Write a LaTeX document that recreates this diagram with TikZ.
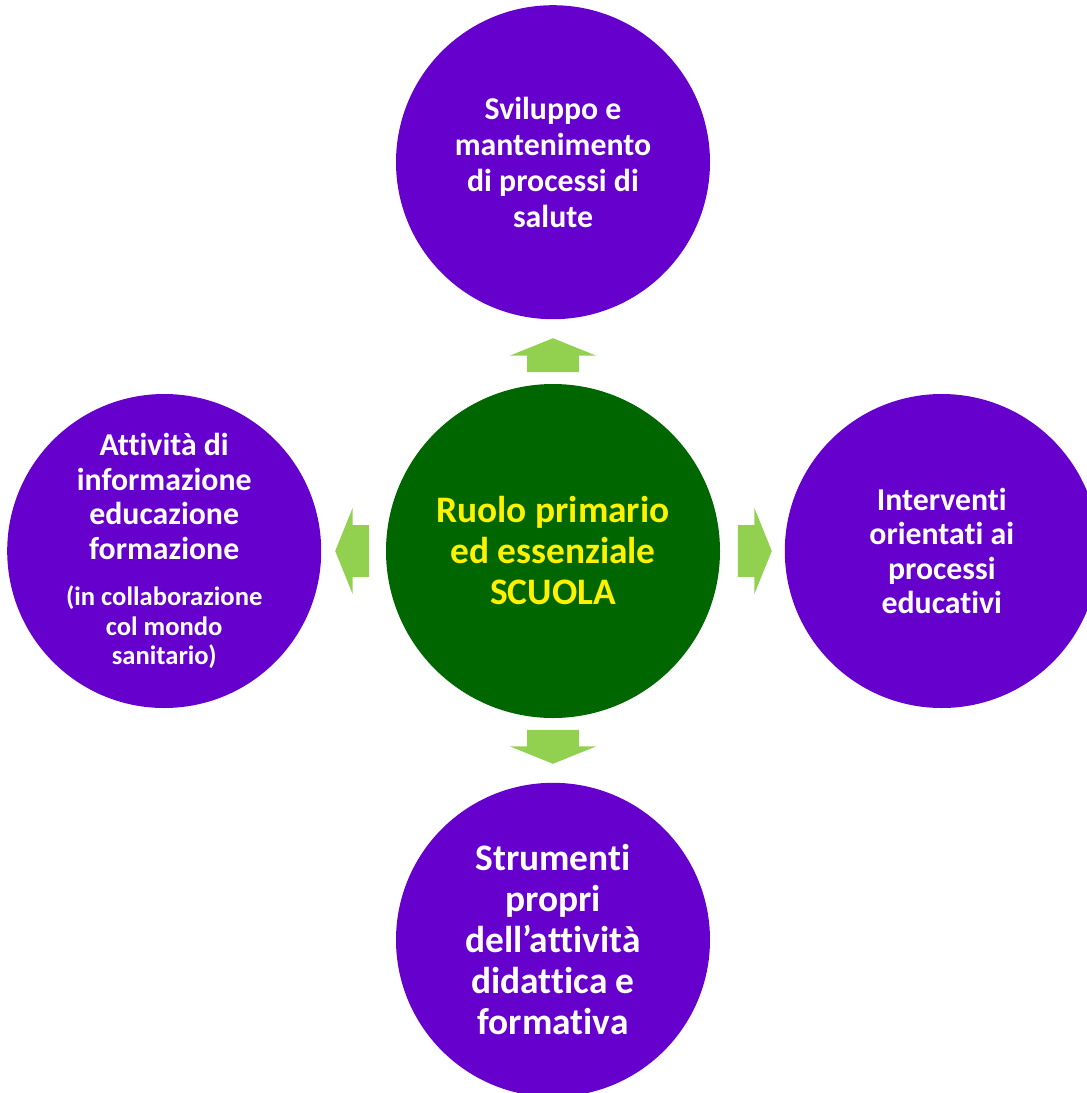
\documentclass[tikz,border=0pt]{standalone}
\usepackage{fontspec}
\setmainfont[Ligatures=NoCommon]{Carlito}
\usetikzlibrary{shapes.arrows}
\usetikzlibrary{positioning}
\definecolor{viola}{HTML}{6600CC}
\definecolor{verdes}{HTML}{006600}
\definecolor{verdec}{HTML}{92D050}
\newcommand{\piccolo}{\fontsize{13.3}{14.5}\selectfont}
\tikzset{
    mynodep/.style = {circle, fill=viola, align=center, inner sep=0pt, minimum size=157pt, font=\bfseries\fontsize{15.9}{17.25}\selectfont, text=white},
    mynodeg/.style = {circle, fill=verdes, align=center, inner sep=0pt, minimum size=167pt, font=\bfseries\fontsize{18.7}{20.5}\selectfont, text=yellow},
    freccia/.style = {single arrow, fill=verdec, anchor=tail, inner xsep=0pt, inner ysep=12.75pt, minimum height=17pt, single arrow head extend=8.5pt, single arrow tip angle=136},
}
\begin{document}
\begin{tikzpicture}[x=0.5pt, y=-0.5pt, node distance=32pt]
  \useasboundingbox (0,0) rectangle (1087,1093);
  % centro
  \node[mynodeg] (scuola) at (553,551) {Ruolo primario\\ed essenziale\\SCUOLA};
  % cerchi esterni
  \node[mynodep, above=of scuola, font=\bfseries\fontsize{15.9}{18}\selectfont] (salute) {Sviluppo e\\mantenimento\\di processi di\\salute};
  \node[mynodep, left=of scuola] (informa) {Attività di\\informazione\\educazione\\formazione\\[6pt]\piccolo (in collaborazione\\[-2.5pt]\piccolo col mondo\\[-2.5pt]\piccolo sanitario)};
  \node[mynodep, right=of scuola] (interventi) {Interventi\\orientati ai\\processi\\educativi};
  \node[mynodep, below=of scuola, font=\bfseries\fontsize{18.7}{20.5}\selectfont] (strumenti) {Strumenti\\propri\\dell’attività\\didattica e\\formativa};
  % frecce
  \node[freccia, rotate=90] (fsu) at ([yshift=5.5pt]scuola.north) {};
  \node[freccia, rotate=180] (fsx) at ([xshift=-8pt]scuola.west) {};
  \node[freccia] (fdx) at ([xshift=8.5pt]scuola.east) {};
  \node[freccia, rotate=-90] (fgiu) at ([yshift=-5.5pt]scuola.south) {};
\end{tikzpicture}
\end{document}
